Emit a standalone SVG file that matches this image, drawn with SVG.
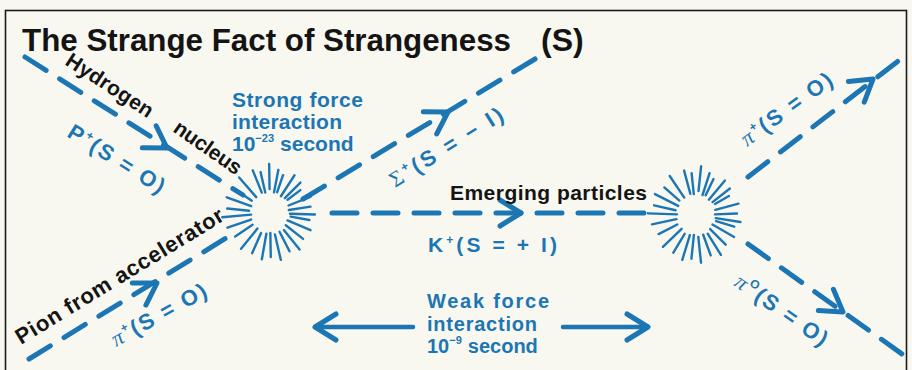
<svg xmlns="http://www.w3.org/2000/svg" xmlns:xlink="http://www.w3.org/1999/xlink" width="912" height="370" viewBox="0 0 912 370">
<style>
.bk{font-family:"Liberation Sans",Arial,sans-serif;font-weight:bold;fill:#141414}
.bl{font-family:"Liberation Sans",Arial,sans-serif;font-weight:bold;fill:#1c76b4}
.pi{font-family:"Liberation Serif","Times New Roman",serif;font-style:italic;font-weight:normal}
.dash{fill:none;stroke:#1c76b4;stroke-width:5;stroke-linecap:round;stroke-dasharray:25 16}
.solid{fill:none;stroke:#1c76b4;stroke-width:4.5;stroke-linecap:round}
.chev{fill:none;stroke:#1c76b4;stroke-width:5;stroke-linecap:round;stroke-linejoin:round}
.ray line{stroke:#1c76b4;stroke-width:2.4;stroke-linecap:round}
</style>
<defs>
<path id="chev" class="chev" d="M-21,-13 L0,0 L-21,13"/>
<g id="burst" class="ray">
<line x1="22" x2="46" y1="0" y2="0" transform="rotate(-112)"/>
<line x1="21" x2="42" y1="0" y2="0" transform="rotate(-103)"/>
<line x1="24" x2="49" y1="0" y2="0" transform="rotate(-91)"/>
<line x1="21" x2="44" y1="0" y2="0" transform="rotate(-79)"/>
<line x1="22" x2="40" y1="0" y2="0" transform="rotate(-71)"/>
<line x1="20" x2="45" y1="0" y2="0" transform="rotate(-57)"/>
<line x1="21" x2="43" y1="0" y2="0" transform="rotate(-45)"/>
<line x1="22" x2="38" y1="0" y2="0" transform="rotate(-37)"/>
<line x1="20" x2="44" y1="0" y2="0" transform="rotate(-22)"/>
<line x1="19" x2="41" y1="0" y2="0" transform="rotate(-9)"/>
<line x1="20" x2="45" y1="0" y2="0" transform="rotate(2)"/>
<line x1="21" x2="40" y1="0" y2="0" transform="rotate(10)"/>
<line x1="19" x2="44" y1="0" y2="0" transform="rotate(23)"/>
<line x1="20" x2="42" y1="0" y2="0" transform="rotate(38)"/>
<line x1="22" x2="47" y1="0" y2="0" transform="rotate(51)"/>
<line x1="21" x2="43" y1="0" y2="0" transform="rotate(63)"/>
<line x1="22" x2="48" y1="0" y2="0" transform="rotate(77)"/>
<line x1="20" x2="44" y1="0" y2="0" transform="rotate(89)"/>
<line x1="21" x2="47" y1="0" y2="0" transform="rotate(100)"/>
<line x1="22" x2="44" y1="0" y2="0" transform="rotate(114)"/>
<line x1="20" x2="46" y1="0" y2="0" transform="rotate(129)"/>
<line x1="21" x2="42" y1="0" y2="0" transform="rotate(146)"/>
<line x1="20" x2="45" y1="0" y2="0" transform="rotate(161)"/>
<line x1="19" x2="48" y1="0" y2="0" transform="rotate(175)"/>
<line x1="21" x2="43" y1="0" y2="0" transform="rotate(186)"/>
<line x1="20" x2="46" y1="0" y2="0" transform="rotate(200)"/>
<line x1="22" x2="42" y1="0" y2="0" transform="rotate(214)"/>
<line x1="21" x2="47" y1="0" y2="0" transform="rotate(229)"/>
</g>
</defs>
<rect x="0" y="0" width="912" height="370" fill="#f9f8f0"/>
<rect x="5.5" y="10.5" width="901" height="370" fill="none" stroke="#1a1a1a" stroke-width="1.6"/>

<g id="title">
<text class="bk" x="22" y="51" font-size="32" textLength="489" lengthAdjust="spacingAndGlyphs">The Strange Fact of Strangeness</text>
<text class="bk" x="541" y="51" font-size="32">(S)</text>
</g>

<g id="connectors">
<path class="dash" d="M25,57 L243,195"/>
<path class="dash" d="M29,359 L236,232"/>
<path class="dash" d="M303,199 L540,56"/>
<path class="dash" d="M332,213 L648,213"/>
<path class="dash" d="M748,177 L906,55"/>
<path class="dash" d="M748,244 L902,354"/>
<use xlink:href="#chev" transform="translate(167,148) rotate(32.3)"/>
<use xlink:href="#chev" transform="translate(157,283) rotate(-31.6)"/>
<use xlink:href="#chev" transform="translate(448,112) rotate(-31.1)"/>
<use xlink:href="#chev" transform="translate(521,213)"/>
<use xlink:href="#chev" transform="translate(873,79) rotate(-37.5)"/>
<use xlink:href="#chev" transform="translate(843,312) rotate(35.4)"/>
<path class="solid" d="M317,327 L413,327"/>
<use xlink:href="#chev" transform="translate(315,327) rotate(180)" style="stroke-width:4.5"/>
<path class="solid" d="M563,327 L645,327"/>
<use xlink:href="#chev" transform="translate(648,327)" style="stroke-width:4.5"/>
</g>

<g id="strong-interaction">
<use xlink:href="#burst" transform="translate(270,213)"/>
<text class="bl" x="232" y="107" font-size="21" textLength="131" lengthAdjust="spacing">Strong force</text>
<text class="bl" x="232" y="129" font-size="21" textLength="110" lengthAdjust="spacing">interaction</text>
<text class="bl" x="232" y="151" font-size="21">10<tspan font-size="11" dy="-9">−23</tspan><tspan dy="9" dx="6">second</tspan></text>
</g>

<g id="weak-decay">
<use xlink:href="#burst" transform="translate(696,215) rotate(7)"/>
</g>

<g id="weak-label">
<text class="bl" x="427" y="308" font-size="20" textLength="122" lengthAdjust="spacing">Weak force</text>
<text class="bl" x="427" y="331" font-size="20" textLength="110" lengthAdjust="spacing">interaction</text>
<text class="bl" x="427" y="353" font-size="20">10<tspan font-size="11" dy="-9">−9</tspan><tspan dy="9" dx="6">second</tspan></text>
</g>

<g id="hydrogen-nucleus">
<text class="bk" font-size="21" transform="translate(64,64) rotate(33)" textLength="100" lengthAdjust="spacing">Hydrogen</text>
<text class="bk" font-size="21" transform="translate(172,131) rotate(35)" textLength="78" lengthAdjust="spacing">nucleus</text>
<text class="bl" font-size="22" transform="translate(66,136) rotate(32)" textLength="110" lengthAdjust="spacing">P<tspan font-size="12" dy="-9">+</tspan><tspan dy="9">(S = O)</tspan></text>
</g>

<g id="pion-in">
<text class="bk" font-size="22" transform="translate(21,345) rotate(-31.5)" textLength="240" lengthAdjust="spacing">Pion from accelerator</text>
<text class="bl" font-size="22" transform="translate(116,347) rotate(-29)" textLength="106" lengthAdjust="spacing"><tspan class="pi">π</tspan><tspan font-size="12" dy="-9">+</tspan><tspan dy="9">(S = O)</tspan></text>
</g>

<g id="sigma">
<text class="bl" font-size="22" transform="translate(395,188) rotate(-32)" textLength="130" lengthAdjust="spacing"><tspan font-weight="normal" font-family="Liberation Serif, serif">Σ</tspan><tspan font-size="12" dy="-9">+</tspan><tspan dy="9">(S = − I)</tspan></text>
</g>

<g id="kaon">
<text class="bk" x="450" y="200" font-size="21" textLength="197" lengthAdjust="spacing">Emerging particles</text>
<text class="bl" x="428" y="252" font-size="21" textLength="129" lengthAdjust="spacing">K<tspan font-size="12" dy="-8">+</tspan><tspan dy="8">(S = + I)</tspan></text>
</g>

<g id="pion-plus-out">
<text class="bl" font-size="22" transform="translate(747,147) rotate(-36)" textLength="108" lengthAdjust="spacing"><tspan class="pi">π</tspan><tspan font-size="12" dy="-9">+</tspan><tspan dy="9">(S = O)</tspan></text>
</g>

<g id="pion-zero-out">
<text class="bl" font-size="22" transform="translate(733,285) rotate(35)" textLength="108" lengthAdjust="spacing"><tspan class="pi">π</tspan><tspan font-size="12" dy="-9">O</tspan><tspan dy="9">(S = O)</tspan></text>
</g>
</svg>
